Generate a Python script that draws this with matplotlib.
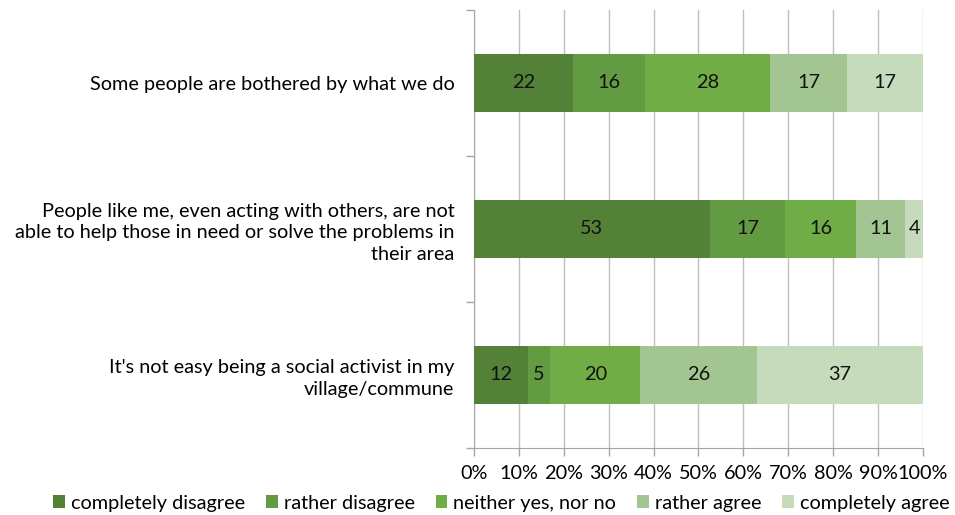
import numpy as np
import matplotlib.pyplot as plt

plt.rcParams['font.family'] = ['Lato', 'DejaVu Sans']

statements = [
    'Some people are bothered by what we do',
    'People like me, even acting with others, are not\nable to help those in need or solve the problems in\ntheir area',
    "It's not easy being a social activist in my\nvillage/commune",
]
answers = ['completely disagree', 'rather disagree', 'neither yes, nor no',
           'rather agree', 'completely agree']
completely_disagree = [22, 53, 12]
rather_disagree = [16, 17, 5]
neither = [28, 16, 20]
rather_agree = [17, 11, 26]
completely_agree = [17, 4, 37]
colors = ['#548138', '#629b41', '#70ad47', '#a3c591', '#c5dbbb']

values = np.array([completely_disagree, rather_disagree, neither,
                   rather_agree, completely_agree], dtype=float)
# 100% stacked: each row is scaled to its own total
shares = values / values.sum(axis=0) * 100

fig = plt.figure(figsize=(9.55, 5.15), dpi=100)
ax = fig.add_axes([0.4963, 0.1301, 0.4702, 0.8505])

fs = 14.3
y = np.arange(len(statements))
left = np.zeros(len(statements))
for i, name in enumerate(answers):
    bars = ax.barh(y, shares[i], left=left, height=0.4, color=colors[i],
                   label=name, zorder=3)
    for j, b in enumerate(bars):
        ax.text(left[j] + shares[i][j] / 2, y[j], f'{values[i][j]:.0f}',
                ha='center', va='center', fontsize=fs, color='#111111', zorder=4)
    left += shares[i]

ax.set_xlim(0, 100)
ax.set_ylim(2.5, -0.5)
ax.set_xticks(np.arange(0, 101, 10))
ax.set_xticklabels([f'{t}%' for t in range(0, 101, 10)], fontsize=fs)
ax.xaxis.grid(True, color='#bfbfbf', linewidth=1, zorder=0)

ax.set_yticks(y)
ax.set_yticklabels(statements, fontsize=fs, ha='right', linespacing=1.35)
ax.set_yticks([-0.5, 0.5, 1.5, 2.5], minor=True)
ax.tick_params(axis='y', which='major', length=0, pad=14)
ax.tick_params(axis='y', which='minor', length=6, color='#a6a6a6', width=1)
ax.tick_params(axis='x', length=6, color='#a6a6a6', width=1, pad=6)

for s in ['top', 'right']:
    ax.spines[s].set_visible(False)
for s in ['left', 'bottom']:
    ax.spines[s].set_color('#a6a6a6')

fig.legend(loc='lower center', bbox_to_anchor=(0.525, -0.028), ncol=5,
           frameon=False, fontsize=fs, handlelength=0.6, handleheight=0.6,
           handletextpad=0.3, columnspacing=1.05)

fig.savefig('out.png', dpi=100)
